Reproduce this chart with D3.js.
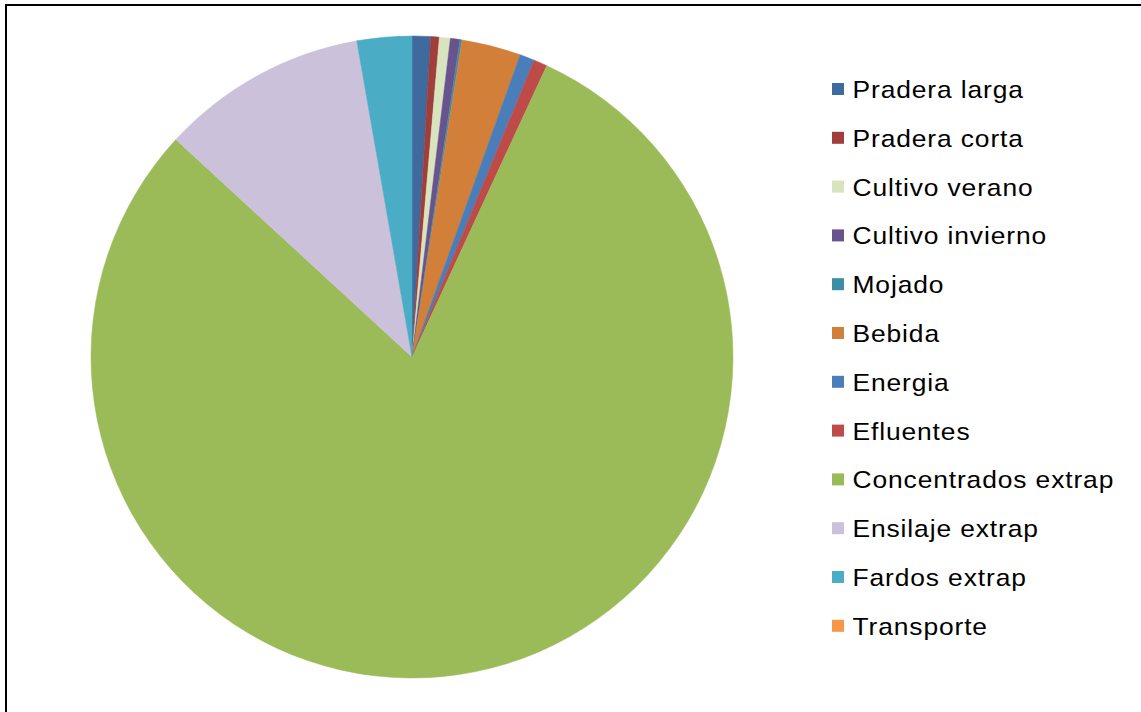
<!DOCTYPE html>
<html>
<head>
<meta charset="utf-8">
<script src="https://cdn.jsdelivr.net/npm/d3@7"></script>
<style>
  html, body { margin: 0; padding: 0; background: #fff; }
  svg { display: block; }
  text { font-family: "Liberation Sans", Arial, sans-serif; }
</style>
</head>
<body>
<svg id="chart" width="1141" height="712"></svg>
<script>
// Share of each source (%)
const categories = [
  "Pradera larga", "Pradera corta", "Cultivo verano", "Cultivo invierno",
  "Mojado", "Bebida", "Energia", "Efluentes",
  "Concentrados extrap", "Ensilaje extrap", "Fardos extrap", "Transporte"
];
const values = [0.93, 0.43, 0.55, 0.48, 0.10, 2.98, 0.74, 0.68, 79.9, 10.4, 2.75, 0.0];
const colors = [
  "#3E6A9E", "#A03E3C", "#D7E4BD", "#69538E",
  "#3C8EA5", "#D27F3A", "#4A7EBB", "#BE4B48",
  "#9BBB59", "#CCC1DA", "#4BACC6", "#F79646"
];

const svg = d3.select("#chart");
const W = 1141, H = 712;

// chart frame
svg.append("rect")
  .attr("x", 6).attr("y", 5)
  .attr("width", W + 10).attr("height", H + 10)
  .attr("fill", "#fff")
  .attr("stroke", "#000").attr("stroke-width", 2);

const data = categories.map((c, i) => ({ name: c, value: values[i], color: colors[i] }));

const cx = 412, cy = 357, r = 321;

const pie = d3.pie()
  .value(d => d.value)
  .sort(null)
  .startAngle(0)
  .endAngle(2 * Math.PI);

const arc = d3.arc().innerRadius(0).outerRadius(r);

svg.append("g")
  .attr("transform", `translate(${cx},${cy})`)
  .selectAll("path")
  .data(pie(data).filter(d => d.data.value > 0))
  .join("path")
  .attr("d", arc)
  .attr("fill", d => d.data.color)
  .attr("stroke", d => d.data.color)
  .attr("stroke-width", 0.5);

// legend
const legend = svg.append("g").attr("transform", "translate(832,89)");
const row = d3.scaleBand().domain(categories).range([0, 48.8 * categories.length]).padding(0);

const item = legend.selectAll("g")
  .data(data)
  .join("g")
  .attr("transform", d => `translate(0,${row(d.name)})`);

item.append("rect")
  .attr("x", 0).attr("y", -6)
  .attr("width", 12).attr("height", 12)
  .attr("fill", d => d.color);

item.append("text")
  .attr("transform", "translate(20.5,9) scale(1.1,1)")
  .attr("font-size", 24)
  .attr("letter-spacing", 0.8)
  .attr("fill", "#000")
  .text(d => d.name);
</script>
</body>
</html>
